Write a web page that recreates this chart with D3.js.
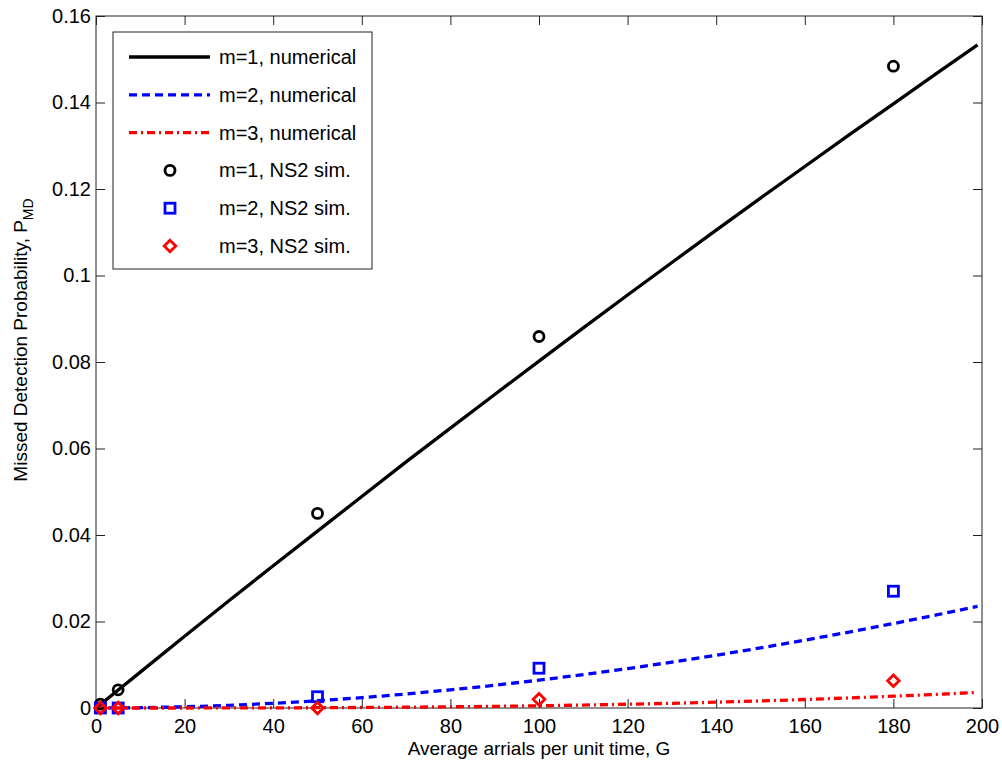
<!DOCTYPE html>
<html>
<head>
<meta charset="utf-8">
<script src="https://cdn.jsdelivr.net/npm/d3@7"></script>
<style>
  body { margin: 0; background: #fff; }
  text { font-family: "Liberation Sans", Arial, sans-serif; fill: #000; }
</style>
</head>
<body>
<div id="chart"></div>
<script>
// numerical curves
var G = [0, 10, 20, 30, 40, 50, 60, 70, 80, 90, 100, 110, 120, 130, 140, 150, 160, 170, 180, 190, 199];
var m1Num = [0, 0.0083, 0.0166, 0.0248, 0.0329, 0.0409, 0.0489, 0.0569, 0.0647, 0.0725, 0.0802,
  0.0879, 0.0955, 0.1030, 0.1105, 0.1179, 0.1252, 0.1325, 0.1397, 0.1469, 0.1533];
var m2Num = [0, 0.00007, 0.00028, 0.00061, 0.00108, 0.00168, 0.00239, 0.00323, 0.00419, 0.00525, 0.00643,
  0.00772, 0.00911, 0.01061, 0.0122, 0.01389, 0.01568, 0.01755, 0.01952, 0.02157, 0.02349];
var m3Num = [0, 0.000001, 0.000005, 0.000015, 0.000036, 0.000069, 0.000117, 0.000184, 0.000271, 0.000381, 0.000516,
  0.000678, 0.00087, 0.001092, 0.001348, 0.001637, 0.001963, 0.002325, 0.002726, 0.003167, 0.0036];

// NS2 simulation points
var simG = [1, 5, 50, 100, 180];
var m1Sim = [0.0009, 0.0042, 0.0450, 0.0859, 0.1484];
var m2Sim = [0, 0, 0.0026, 0.0092, 0.0270];
var m3Sim = [0, 0, 0, 0.0020, 0.0063];

var xTicks = [0, 20, 40, 60, 80, 100, 120, 140, 160, 180, 200];
var yTicks = [0, 0.02, 0.04, 0.06, 0.08, 0.1, 0.12, 0.14, 0.16];

var legendLabels = ["m=1, numerical", "m=2, numerical", "m=3, numerical",
  "m=1, NS2 sim.", "m=2, NS2 sim.", "m=3, NS2 sim."];

var margin = { top: 16, left: 96, right: 20, bottom: 56 },
  width = 1002 - margin.left - margin.right,
  height = 764 - margin.top - margin.bottom;

var svg = d3.select("#chart")
  .append("svg")
  .attr("width", 1002)
  .attr("height", 764)
  .append("g")
  .attr("transform", "translate(" + margin.left + "," + margin.top + ")");

var x = d3.scaleLinear().domain([0, 200]).range([0, width]);
var y = d3.scaleLinear().domain([0, 0.16]).range([height, 0]);
var fmt = d3.format("~g");

// box + inward ticks on all sides
svg.append("rect")
  .attr("width", width).attr("height", height)
  .attr("fill", "none").attr("stroke", "#222").attr("stroke-width", 1);

var tl = 9;
var xAxis = d3.axisBottom(x).tickValues(xTicks).tickSizeInner(-tl).tickSizeOuter(0).tickPadding(11).tickFormat(fmt);
svg.append("g").attr("class", "axis x-axis").attr("transform", "translate(0," + height + ")").call(xAxis);
var xTop = d3.axisTop(x).tickValues(xTicks).tickSizeInner(-tl).tickSizeOuter(0).tickFormat("");
svg.append("g").attr("class", "axis").call(xTop);
var yAxis = d3.axisLeft(y).tickValues(yTicks).tickSizeInner(-tl).tickSizeOuter(0).tickPadding(5).tickFormat(fmt);
svg.append("g").attr("class", "axis y-axis").call(yAxis);
var yRight = d3.axisRight(y).tickValues(yTicks).tickSizeInner(-tl).tickSizeOuter(0).tickFormat("");
svg.append("g").attr("class", "axis").attr("transform", "translate(" + width + ",0)").call(yRight);

svg.selectAll(".axis .domain").remove();
svg.selectAll(".axis line").attr("stroke", "#222");
svg.selectAll(".axis text").attr("font-size", 20).attr("fill", "#000")
  .style("font-family", "'Liberation Sans', Arial, sans-serif");

// lines
var series = [
  { vals: m1Num, color: "#000", dash: null },
  { vals: m2Num, color: "#0000ff", dash: "8,5" },
  { vals: m3Num, color: "#ff0000", dash: "8,4,2,4" }
];
var line = d3.line()
  .x(function(d) { return x(d[0]); })
  .y(function(d) { return y(d[1]); });

series.forEach(function(s) {
  svg.append("path")
    .datum(G.map(function(g, i) { return [g, s.vals[i]]; }))
    .attr("d", line)
    .attr("fill", "none")
    .attr("stroke", s.color)
    .attr("stroke-width", 3.3)
    .attr("stroke-dasharray", s.dash);
});

// markers
function circleMark(sel, cx, cy) {
  sel.append("circle").attr("cx", cx).attr("cy", cy).attr("r", 5)
    .attr("fill", "none").attr("stroke", "#000").attr("stroke-width", 2.8);
}
function squareMark(sel, cx, cy) {
  sel.append("rect").attr("x", cx - 5).attr("y", cy - 5).attr("width", 10).attr("height", 10)
    .attr("fill", "none").attr("stroke", "#0000ff").attr("stroke-width", 2.8);
}
function diamondMark(sel, cx, cy) {
  var r = 5.8;
  sel.append("path")
    .attr("d", "M" + cx + "," + (cy - r) + "L" + (cx + r) + "," + cy + "L" + cx + "," + (cy + r) + "L" + (cx - r) + "," + cy + "Z")
    .attr("fill", "none").attr("stroke", "#ff0000").attr("stroke-width", 2.8);
}

simG.forEach(function(g, i) { circleMark(svg, x(g), y(m1Sim[i])); });
simG.forEach(function(g, i) { squareMark(svg, x(g), y(m2Sim[i])); });
simG.forEach(function(g, i) { diamondMark(svg, x(g), y(m3Sim[i])); });

// axis labels
svg.append("text")
  .attr("x", width / 2)
  .attr("y", height + 47)
  .attr("font-size", 19)
  .attr("text-anchor", "middle")
  .text("Average arrials per unit time, G");

var yl = svg.append("text")
  .attr("transform", "translate(" + (27 - margin.left) + "," + (340 - margin.top) + ") rotate(-90)")
  .attr("font-size", 19)
  .attr("text-anchor", "middle");
yl.append("tspan").text("Missed Detection Probability, P");
yl.append("tspan").attr("dy", 6).attr("font-size", 14).text("MD");

// legend
var lg = svg.append("g").attr("transform", "translate(" + (113 - margin.left) + "," + (32 - margin.top) + ")");
lg.append("rect")
  .attr("width", 259).attr("height", 237)
  .attr("fill", "#fff").attr("stroke", "#222").attr("stroke-width", 1);

var rowY = d3.scalePoint().domain(d3.range(6)).range([25, 214]);
legendLabels.forEach(function(lbl, i) {
  var ry = rowY(i);
  if (i < 3) {
    lg.append("line")
      .attr("x1", 16).attr("x2", 97).attr("y1", ry).attr("y2", ry)
      .attr("stroke", series[i].color).attr("stroke-width", 3.3)
      .attr("stroke-dasharray", series[i].dash);
  } else if (i === 3) {
    circleMark(lg, 57, ry);
  } else if (i === 4) {
    squareMark(lg, 57, ry);
  } else {
    diamondMark(lg, 57, ry);
  }
  lg.append("text")
    .attr("x", 106).attr("y", ry)
    .attr("dy", "0.35em")
    .attr("font-size", 20)
    .text(lbl);
});
</script>
</body>
</html>
